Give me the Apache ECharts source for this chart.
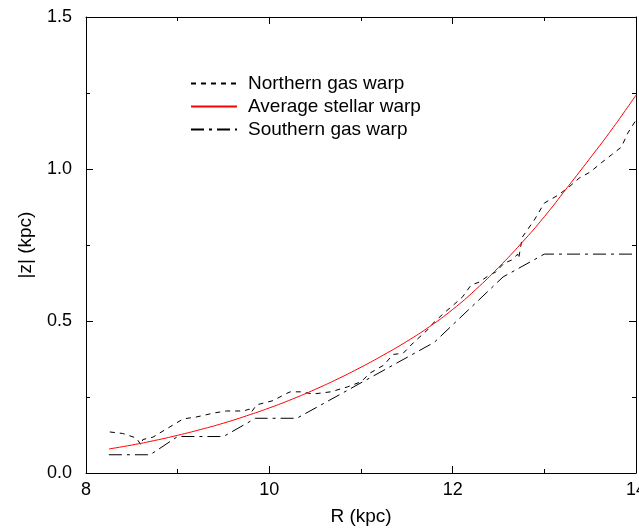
<!DOCTYPE html>
<html>
<head>
<meta charset="utf-8">
<script src="https://cdn.jsdelivr.net/npm/echarts@6/dist/echarts.min.js"></script>
<style>html,body{margin:0;padding:0;background:#fff;}#c{width:639px;height:528px;}</style>
</head>
<body>
<div id="c"></div>
<script>
var seriesNames = ['Northern gas warp', 'Average stellar warp', 'Southern gas warp'];
var xTicks = [8, 10, 12, 14];
var yTicks = ['0.0', '0.5', '1.0', '1.5'];

var northR = [8.26, 8.4, 8.55, 8.6, 8.62, 8.73, 8.95, 9.06, 9.2, 9.39, 9.53, 9.72, 9.78, 9.8, 9.86, 10.04, 10.19, 10.23, 10.34, 10.48, 10.67, 10.85, 11.0, 11.1, 11.25, 11.32, 11.35, 11.46, 11.57, 11.73, 11.8, 11.92, 12.01, 12.11, 12.2, 12.29, 12.4, 12.47, 12.56, 12.64, 12.71, 12.72, 12.76, 12.89, 13.0, 13.15, 13.27, 13.38, 13.5, 13.62, 13.73, 13.84, 13.91, 14.0];
var northZ = [0.135, 0.13, 0.115, 0.092, 0.11, 0.118, 0.158, 0.178, 0.184, 0.197, 0.204, 0.204, 0.21, 0.198, 0.224, 0.238, 0.262, 0.267, 0.267, 0.26, 0.267, 0.283, 0.3, 0.329, 0.355, 0.38, 0.39, 0.394, 0.428, 0.472, 0.497, 0.53, 0.553, 0.58, 0.618, 0.628, 0.651, 0.661, 0.69, 0.70, 0.72, 0.705, 0.776, 0.832, 0.888, 0.914, 0.941, 0.97, 0.99, 1.02, 1.046, 1.072, 1.118, 1.161];

var stellarR = [8.25, 8.5, 8.75, 9.0, 9.25, 9.5, 9.75, 10.0, 10.25, 10.5, 10.75, 11.0, 11.25, 11.5, 11.75, 12.0, 12.25, 12.5, 12.75, 13.0, 13.25, 13.5, 13.75, 14.0];
var stellarZ = [0.079, 0.092, 0.107, 0.124, 0.143, 0.164, 0.188, 0.214, 0.243, 0.275, 0.31, 0.348, 0.389, 0.433, 0.482, 0.538, 0.603, 0.676, 0.756, 0.843, 0.939, 1.036, 1.136, 1.243];

var southR = [8.25, 8.7, 9.0, 9.5, 9.85, 10.3, 11.8, 12.55, 13.0, 14.0];
var southZ = [0.06, 0.06, 0.12, 0.12, 0.18, 0.18, 0.43, 0.645, 0.72, 0.72];

function pairs(xs, ys) { return xs.map(function (x, i) { return [x, ys[i]]; }); }

var font = 'Liberation Sans, Arial, Helvetica, sans-serif';
var axisCommon = {
  axisLine: { show: true, onZero: false, lineStyle: { color: '#000', width: 1 } },
  axisTick: { show: true, inside: true, length: 7, lineStyle: { color: '#000' } },
  minorTick: { show: true, splitNumber: 2, length: 4, lineStyle: { color: '#000' } },
  splitLine: { show: false }
};
function ax(extra) { return Object.assign({}, JSON.parse(JSON.stringify(axisCommon)), extra); }

var chart = echarts.init(document.getElementById('c'), null, { renderer: 'canvas' });
chart.setOption({
  animation: false,
  backgroundColor: '#fff',
  grid: { left: 86, right: 3, top: 17, bottom: 55, containLabel: false, outerBoundsMode: 'none' },
  legend: {
    orient: 'vertical', left: 185, top: 69,
    itemWidth: 46, itemHeight: 14, itemGap: 4,
    itemStyle: { color: 'rgba(0,0,0,0)', borderWidth: 0, opacity: 0 },
    textStyle: { fontFamily: font, fontSize: 19, color: '#000', padding: [0, 0, 0, 6] },
    data: seriesNames
  },
  xAxis: [
    ax({ type: 'value', min: 8, max: 14, interval: 2, position: 'bottom',
      name: 'R (kpc)', nameLocation: 'middle', nameGap: 34,
      nameTextStyle: { fontFamily: font, fontSize: 19, color: '#000' },
      axisLabel: { show: true, margin: 8, fontFamily: font, fontSize: 18, color: '#000',
        formatter: function (v) { return xTicks.indexOf(v) >= 0 ? String(v) : ''; } } }),
    ax({ type: 'value', min: 8, max: 14, interval: 2, position: 'top', axisLabel: { show: false } })
  ],
  yAxis: [
    ax({ type: 'value', min: 0, max: 1.5, interval: 0.5, position: 'left',
      name: '|z| (kpc)', nameLocation: 'middle', nameGap: 51,
      nameTextStyle: { fontFamily: font, fontSize: 19, color: '#000' },
      axisLabel: { show: true, margin: 14, fontFamily: font, fontSize: 18, color: '#000',
        formatter: function (v) { return yTicks[Math.round(v / 0.5)]; } } }),
    ax({ type: 'value', min: 0, max: 1.5, interval: 0.5, position: 'right', axisLabel: { show: false } })
  ],
  series: [
    { name: seriesNames[0], type: 'line', data: pairs(northR, northZ), symbol: 'none', showSymbol: false,
      lineStyle: { color: '#000', width: 1, type: [5, 5] }, itemStyle: { color: '#000' } },
    { name: seriesNames[1], type: 'line', data: pairs(stellarR, stellarZ), smooth: true, symbol: 'none', showSymbol: false,
      lineStyle: { color: '#ff0000', width: 1, type: 'solid' }, itemStyle: { color: '#ff0000' } },
    { name: seriesNames[2], type: 'line', data: pairs(southR, southZ), symbol: 'none', showSymbol: false,
      lineStyle: { color: '#000', width: 1, type: [13, 5, 3, 5] }, itemStyle: { color: '#000' } }
  ]
});
</script>
</body>
</html>
